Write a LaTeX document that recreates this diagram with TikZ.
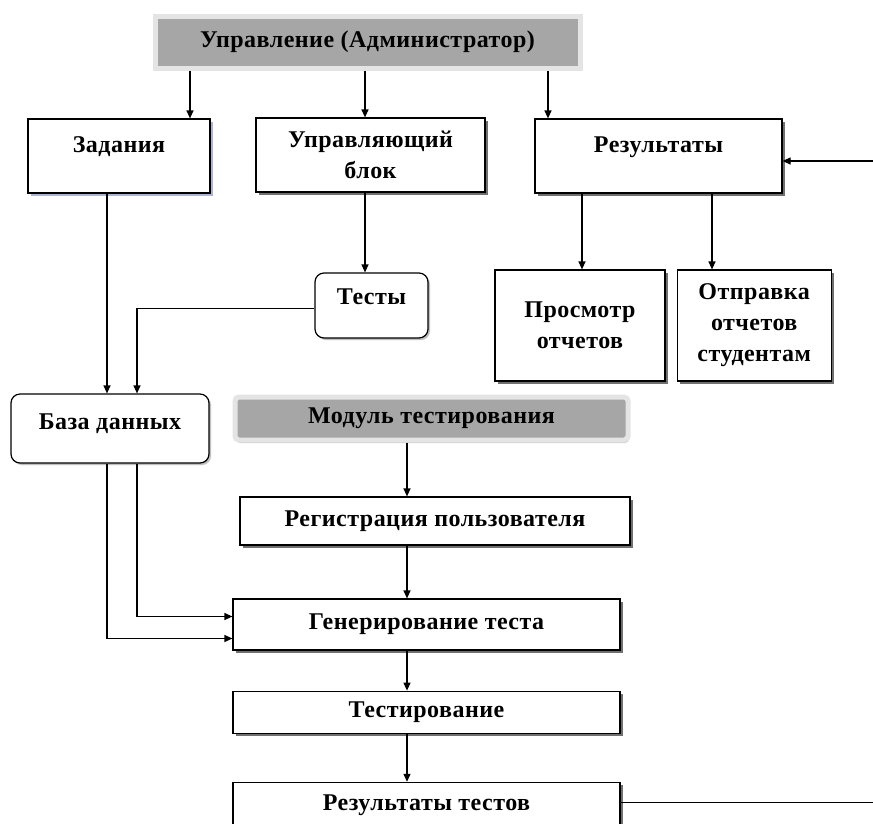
\documentclass[tikz,border=0pt]{standalone}
\usepackage{fontspec}
\setmainfont[LetterSpace=2]{Liberation Serif}
\usetikzlibrary{calc,arrows.meta,positioning,shadows}
\definecolor{headfill}{HTML}{A6A6A6}
\definecolor{glow}{HTML}{E4E4E4}
\definecolor{shade}{HTML}{707070}
\definecolor{blueshade}{HTML}{A9B4D6}

\begin{document}
\begin{tikzpicture}[x=1pt, y=-1pt,
    every node/.style={font=\bfseries\fontsize{24}{31}\selectfont, align=center, inner sep=2pt},
    box/.style={draw, line width=1.2pt, fill=white,
      drop shadow={shadow xshift=3pt, shadow yshift=-3pt, fill=shade, opacity=1}},
    rbox/.style={draw, line width=1.2pt, fill=white, rounded corners=9pt,
      drop shadow={shadow xshift=2pt, shadow yshift=-2pt, fill=black!25, opacity=1}},
    head/.style={draw=glow, line width=5pt, fill=headfill,
      drop shadow={shadow xshift=1pt, shadow yshift=-3pt, fill=black!22, opacity=1}},
    arr/.style={-{Triangle[length=8pt,width=7pt]}, line width=1.2pt},
    conn/.style={line width=1.2pt}]
\fill[white] (0,0) rectangle (873,823);
\useasboundingbox (0,0) rectangle (873,823);
% Columns of the connectors
\coordinate (czad) at (190,0);
\coordinate (cupr) at (365,0);
\coordinate (cres) at (548,0);
\coordinate (cprosm) at (582,0);
\coordinate (cotpr) at (712,0);
\coordinate (cbd1) at (107,0);
\coordinate (cbd2) at (137,0);
\coordinate (cmod) at (407,0);
\coordinate (edge) at (873,0);
% Top: administrator
\node[head, minimum width=425, minimum height=52] (admin) at (367.5,42) {Управление (Администратор)};
% Second row
\node[box, minimum width=182, minimum height=74,
  drop shadow={shadow xshift=3pt, shadow yshift=-3pt, fill=blueshade, opacity=1}] (zad) at (119,156) {Задания\\[-8pt]\mbox{}};
\node[box, minimum width=229, minimum height=74] (upr) at (370.5,155) {Управляющий\\блок};
\node[box, minimum width=247, minimum height=74] (res) at (658.5,156) {Результаты\\[-8pt]\mbox{}};
\coordinate (rin) at ($(res.east)+(0,5)$);
% Tests and reports
\node[rbox, minimum width=113, minimum height=65] (tests) at (371.5,305.5) {Тесты\\[-14pt]\mbox{}};
\node[box, minimum width=170, minimum height=111] (prosm) at (580,325.5) {Просмотр\\отчетов};
\node[box, minimum width=154, minimum height=111, right=11pt of prosm] (otpr) {Отправка\\отчетов\\студентам};
% Database
\node[rbox, minimum width=198, minimum height=69] (bd) at (110,428.5) {База данных\\[-18pt]\mbox{}};
% Testing module
\node[head, rounded corners=4pt, minimum width=393, minimum height=43] (modul) at (431.5,418.5) {Модуль тестирования};
\node[box, minimum width=390, minimum height=48] (reg) at (435,521) {Регистрация пользователя};
\node[box, minimum width=387, minimum height=51] (gen) at (426.5,624.5) {Генерирование теста};
\node[box, minimum width=387, minimum height=42, below=40pt of gen] (testir) {Тестирование};
\node[box, minimum width=387, minimum height=70, below=48pt of testir] (restest) {Результаты тестов\\[-1pt]\mbox{}};
\coordinate (rout) at ($(restest.east)+(0,-15)$);
% Arrows
\draw[arr] (admin.south -| czad) -- (zad.north -| czad);
\draw[arr] (admin.south -| cupr) -- (upr.north -| cupr);
\draw[arr] (admin.south -| cres) -- (res.north -| cres);
\draw[arr] (upr.south -| cupr) -- (tests.north -| cupr);
\draw[arr] (res.south -| cprosm) -- (prosm.north -| cprosm);
\draw[arr] (res.south -| cotpr) -- (otpr.north -| cotpr);
\draw[arr] (rin -| edge) -- (rin);
\draw[arr] (zad.south -| cbd1) -- (bd.north -| cbd1);
\draw[arr] ($(tests.west)+(0,3)$) -| (bd.north -| cbd2);
\draw[arr] (bd.south -| cbd2) |- ($(gen.west)+(0,-8)$);
\draw[arr] (bd.south -| cbd1) |- ($(gen.west)+(0,14)$);
\draw[arr] (modul.south -| cmod) -- (reg.north -| cmod);
\draw[arr] (reg.south -| cmod) -- (gen.north -| cmod);
\draw[arr] (gen.south -| cmod) -- (testir.north -| cmod);
\draw[arr] (testir.south -| cmod) -- (restest.north -| cmod);
\draw[conn] (rout) -- (rout -| edge);
\end{tikzpicture}
\end{document}
